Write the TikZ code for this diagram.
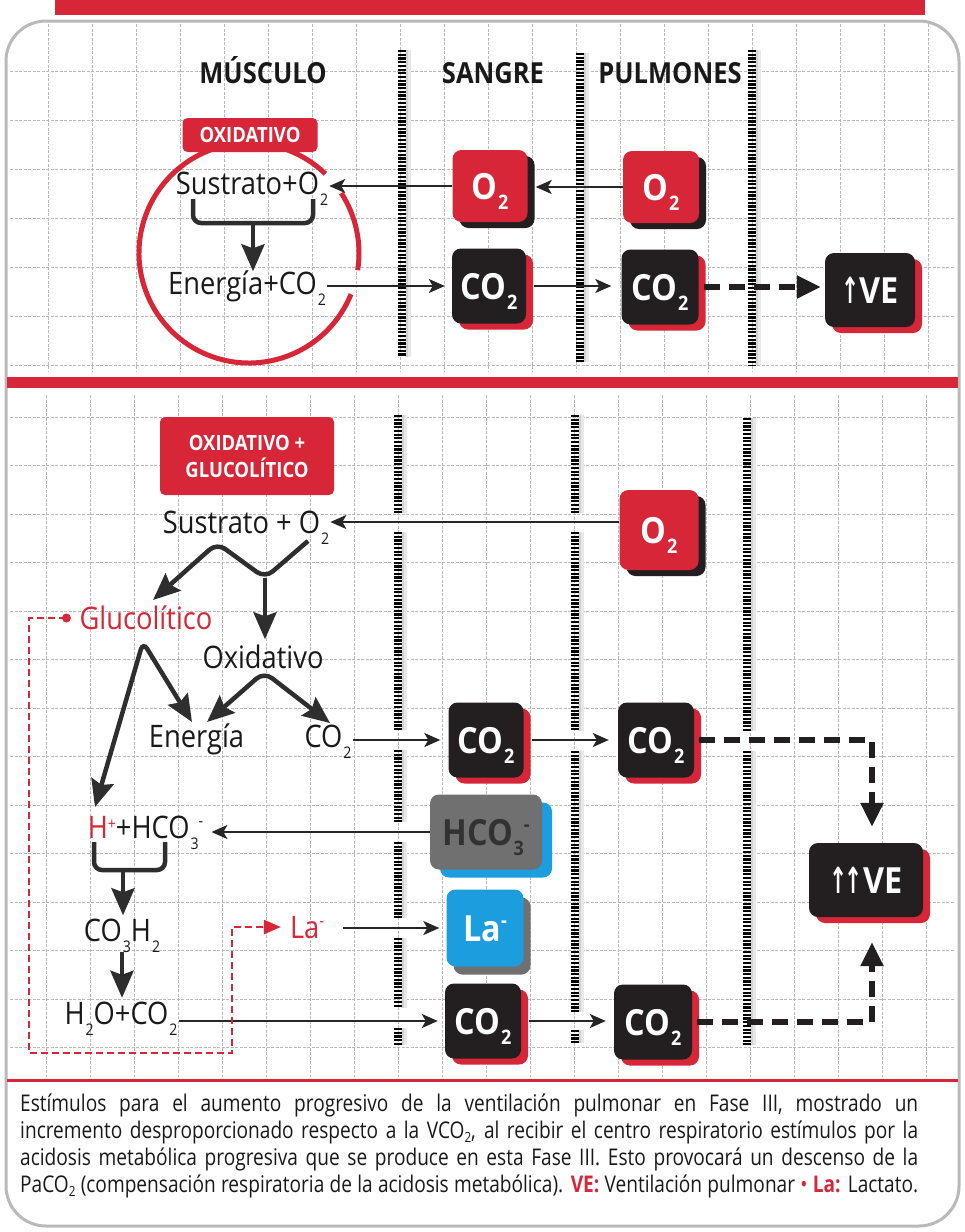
\documentclass[tikz,border=0pt]{standalone}
\usepackage{fontspec}
\setmainfont{Open Sans}
\newfontfamily\osf[FakeStretch=0.88]{Open Sans}
\newfontfamily\bxf[FakeStretch=0.9]{Open Sans}
\newfontfamily\capfont[FakeStretch=0.83]{Open Sans}
\newfontfamily\arrfont[FakeStretch=0.6]{DejaVu Sans}
\usetikzlibrary{arrows.meta,shadows,calc}
\definecolor{cred}{RGB}{214,38,56}
\definecolor{cblack}{RGB}{35,31,32}
\definecolor{cgray}{RGB}{112,112,112}
\definecolor{cgtext}{RGB}{50,50,50}
\definecolor{cblue}{RGB}{27,157,222}
\definecolor{gridc}{RGB}{185,185,185}
\definecolor{ctext}{RGB}{25,25,25}
\newcommand\lsub[1]{\kern1pt\smash{\raisebox{-11pt}{\fontsize{16}{16}\selectfont #1}}}
\newcommand\lsupp[1]{\smash{\raisebox{9pt}{\fontsize{16}{16}\selectfont #1}}}
\newcommand\lsupm[1]{\smash{\raisebox{12pt}{\fontsize{16}{16}\selectfont #1}}}
\newcommand\bsub[1]{\kern0.5pt\smash{\raisebox{-10pt}{\fontsize{20}{20}\selectfont #1}}}
\newcommand\bsup[1]{\smash{\raisebox{14pt}{\fontsize{20}{20}\selectfont #1}}}
\newcommand\csub[1]{\raisebox{-4pt}{\fontsize{14}{14}\selectfont #1}}
\newcommand\barr[3]{\draw[gray!18, line width=6pt] ({#1+6},#2) -- ({#1+6},#3);
  \draw[gray!35, line width=2.5pt] ({#1+5},#2) -- ({#1+5},#3);
  \draw[black, line width=8pt, dash pattern=on 2.2pt off 1.5pt] (#1,#2) -- (#1,#3);}
\tikzset{
  gridl/.style={gridc, line width=0.6pt, dash pattern=on 3pt off 1.5pt},
  hdr/.style={font=\osf\bfseries\fontsize{29}{29}\selectfont, text=ctext, inner sep=1pt, text height=21pt, text depth=0pt},
  lbl/.style={font=\osf\fontsize{31}{31}\selectfont, text=ctext, inner sep=1pt, text height=22pt, text depth=0pt},
  tagbox/.style={fill=cred, rounded corners=5pt, text=white, font=\osf\bfseries\fontsize{21}{27}\selectfont, align=center, inner sep=0pt},
  box/.style={rounded corners=9pt, minimum width=75pt, minimum height=75pt, inner sep=0pt, text=white,
     font=\bxf\bfseries\fontsize{36}{36}\selectfont, text height=26pt, text depth=0pt},
  redbox/.style={box, fill=cred, general shadow={fill=cblack, shadow xshift=7pt, shadow yshift=-6pt}},
  blkbox/.style={box, fill=cblack, general shadow={fill=cred, shadow xshift=7pt, shadow yshift=-6pt}},
  graybox/.style={box, fill=cgray, text=cgtext, general shadow={fill=cblue, shadow xshift=10pt, shadow yshift=-8pt}},
  bluebox/.style={box, fill=cblue, general shadow={fill=cgray, shadow xshift=7pt, shadow yshift=-8pt}},
  thinarr/.style={draw=black!85, line width=2pt, -{Stealth[length=16pt, width=14pt, inset=4pt]}},
  bigline/.style={draw=black!82, line width=4.5pt},
  bigtip/.style={-{Stealth[length=27pt, width=23pt, inset=4pt]}},
  bothtip/.style={{Stealth[length=27pt, width=23pt, inset=4pt]}-{Stealth[length=27pt, width=23pt, inset=4pt]}},
  dasharr/.style={draw=cblack, line width=5.5pt, dash pattern=on 16pt off 9pt, -{Triangle[length=24pt, width=22pt]}},
  reddash/.style={draw=cred, line width=2.5pt, dash pattern=on 7pt off 4pt, -{Triangle[length=17pt, width=14pt]}},
}
\begin{document}
\begin{tikzpicture}[x=1pt, y=-1pt]
\useasboundingbox (0,0) rectangle (965,1232);
\fill[white] (0,0) rectangle (965,1232);
% grid
\foreach \i in {0,...,20} \draw[gridl] ({48+44*\i},24) -- ({48+44*\i},372);
\foreach \yy in {71,120,169,218,267,316,365} \draw[gridl] (10,\yy) -- (955,\yy);
\foreach \i in {0,...,20} \draw[gridl] ({46+44*\i},395) -- ({46+44*\i},1077);
\foreach \k in {0,...,13} \draw[gridl] (10,{417+48.5*\k}) -- (955,{417+48.5*\k});
% card
\draw[gray!55, line width=3pt, rounded corners=40pt] (6,21) rectangle (959,1226);
\fill[cred] (55,0) rectangle (925,15);
\fill[cred] (7,377) rectangle (958,388);
\fill[cred] (7,1079) rectangle (958,1082);
% barriers
\barr{402}{50}{357}
\barr{580}{53}{362}
\barr{752}{50}{365}
\barr{398}{415}{513}\barr{398}{532}{730}\barr{398}{750}{822}\barr{398}{842}{918}\barr{398}{938}{1008}\barr{398}{1028}{1045}
\barr{575}{415}{513}\barr{575}{532}{731}\barr{575}{751}{1012}\barr{575}{1030}{1043}
\barr{747}{418}{731}\barr{747}{751}{1045}
% headers
\node[hdr] (hm) at (263,73) {MÚSCULO};
\node[hdr] (hs) at (493,73) {SANGRE};
\node[hdr] (hp) at (670,73) {PULMONES};
% top circle
\draw[cred, line width=5pt] (249,253) ++(22:110) arc[start angle=22, end angle=314, radius=110];
\draw[cred, line width=5pt] (249,253) ++(-33:110) arc[start angle=-33, end angle=9, radius=110];
\node[tagbox, minimum width=135pt, minimum height=34pt] (ox1) at (250,135) {OXIDATIVO};
% top labels
\node[lbl] (s1) at (252,183) {Sustrato+O\lsub{2}};
\node[lbl] (e1) at (247,283.5) {Energía+CO\lsub{2}};
% top boxes
\node[redbox, minimum width=75pt, minimum height=72pt] (o2a) at (490,186) {O\bsub{2}};
\node[redbox, minimum width=76pt, minimum height=72pt] (o2b) at (661,187) {O\bsub{2}};
\node[blkbox, minimum width=74pt] (co2a) at (489,286) {CO\bsub{2}};
\node[blkbox, minimum width=77pt] (co2b) at (660,287) {CO\bsub{2}};
\node[blkbox, minimum width=90pt, minimum height=74pt] (ve1) at (870,290) {{\arrfont\bfseries ↑}VE};
% top connectors
\draw[thinarr] (o2a.west) -- (o2a.west -| s1.east);
\draw[thinarr] (o2b.west) -- ($(o2b.west -| o2a.east)+(8,0)$);
\draw[thinarr] (e1.east |- co2a.west) -- ([xshift=-7pt]co2a.west);
\draw[thinarr] ([xshift=8pt]co2a.east) -- ([xshift=-10pt]co2b.west |- co2a.east);
\draw[dasharr] ([xshift=5pt]co2b.east) -- ([xshift=-4pt]ve1.west |- co2b.east);
\draw[bigline, rounded corners=8pt] (193,199) |- (313,223) -- (313,199);
\coordinate (bt) at (253,223);
\draw[bigline, bigtip] (bt) -- (bt |- e1.north);
% bottom
\node[tagbox, minimum width=174pt, minimum height=78pt] (ox2) at (247,456) {OXIDATIVO +\\GLUCOLÍTICO};
\node[lbl] (s2) at (246,522) {Sustrato + O\lsub{2}};
\node[lbl, text=cred] (gl) at (146,618) {Glucolítico};
\node[lbl] (ox) at (263,657.5) {Oxidativo};
\node[lbl] (en) at (196.5,736) {Energía};
\node[lbl] (c2) at (328,736) {CO\lsub{2}};
\node[lbl] (h1) at (145.5,827) {{\color{cred}H\lsupp{+}}+HCO\lsub{3}\lsupm{-}};
\node[lbl] (co3) at (122,930.5) {CO\lsub{3}H\lsub{2}};
\node[lbl] (h2o) at (121,1013) {H\lsub{2}O+CO\lsub{2}};
\node[lbl, text=cred] (la1) at (307,927) {La\lsupm{-}};
% bottom boxes
\node[redbox, minimum width=79pt, minimum height=80pt] (o2c) at (659,530) {O\bsub{2}};
\node[blkbox] (co2c) at (486,740) {CO\bsub{2}};
\node[blkbox, minimum width=76pt] (co2d) at (656,740) {CO\bsub{2}};
\node[graybox, minimum width=112pt] (hco) at (486,832) {HCO\bsub{3}\bsup{-}};
\node[bluebox, minimum width=77pt, minimum height=77pt] (la) at (485,928) {La\bsup{-}};
\node[blkbox, minimum width=76pt] (co2e) at (483,1021) {CO\bsub{2}};
\node[blkbox, minimum width=78pt] (co2f) at (653,1022) {CO\bsub{2}};
\node[blkbox, minimum width=114pt, minimum height=74pt] (ve2) at (866,880) {{\arrfont\bfseries ↑\kern-3pt↑}VE};
% bottom connectors
\draw[thinarr] (o2c.west |- s2.east) -- (s2.east);
\coordinate (j1) at (265,578);
\coordinate (a0) at (308,541);
\coordinate (pk1) at (217,543);
\coordinate (gt) at (153,600);
\draw[bigline, rounded corners=10pt, bigtip] (a0) -- (j1) -- (pk1) -- (gt);
\draw[bigline, bigtip, shorten >=6pt] (j1) -- (j1 |- ox.north);
\coordinate (pk2) at (143,642);
\coordinate (ht) at (95,807);
\coordinate (et1) at (192,722);
\draw[bigline, rounded corners=8pt, bothtip] (ht) -- (pk2) -- (et1);
\coordinate (pk3) at (264,672);
\coordinate (et2) at (207,722);
\coordinate (ct) at (330,723);
\draw[bigline, rounded corners=10pt, bothtip] (et2) -- (pk3) -- (ct);
\draw[thinarr] (c2.east |- co2c.west) -- ([xshift=-8pt]co2c.west);
\draw[thinarr] ([xshift=8pt]co2c.east) -- ([xshift=-9pt]co2d.west |- co2c.east);
\draw[dasharr] ([xshift=5pt]co2d.east) -| ([xshift=6pt, yshift=16pt]ve2.north);
\draw[dasharr] ([xshift=5pt]co2f.east) -| ([xshift=6pt, yshift=-25pt]ve2.south);
\draw[thinarr] (hco.west) -- ([xshift=7pt]h1.east |- hco.west);
\draw[bigline, rounded corners=8pt] (94,842) |- (165,870) -- (165,842);
\coordinate (bt2) at (123,870);
\draw[bigline, bigtip, shorten >=3pt] (bt2) -- (bt2 |- co3.north);
\coordinate (bt3) at (122,952);
\draw[bigline, bigtip, shorten >=3pt] (bt3) -- (bt3 |- h2o.north);
\draw[thinarr] (h2o.east |- co2e.west) -- ([xshift=-7pt]co2e.west);
\draw[thinarr] ([xshift=18pt]la1.east |- la.west) -- ([xshift=-7pt]la.west);
\draw[thinarr] ([xshift=8pt]co2e.east) -- ([xshift=-8pt]co2f.west |- co2e.east);
\coordinate (rd) at ([xshift=-12pt]gl.west);
\fill[cred] (rd) circle (4.5);
\draw[reddash] (rd) -- (29,618) -- (29,1053) -- (232,1053) -- (232,927) -- ([xshift=-8pt]la1.west);
% caption
\begin{scope}[every node/.style={anchor=base west, inner sep=0pt, font=\capfont\fontsize{23}{23}\selectfont, text=ctext}]
\node (cap1) at (20,1111) {\makebox[898pt][s]{Estímulos para el aumento progresivo de la ventilación pulmonar en Fase III, mostrado un}};
\node (cap2) at (20,1138) {\makebox[898pt][s]{incremento desproporcionado respecto a la VCO\csub{2}, al recibir el centro respiratorio estímulos por la}};
\node (cap3) at (20,1165) {\makebox[898pt][s]{acidosis metabólica progresiva que se produce en esta Fase III. Esto provocará un descenso de la}};
\node (cap4) at (20,1192) {\makebox[898pt][s]{PaCO\csub{2} (compensación respiratoria de la acidosis metabólica). {\color{cred}\bfseries VE:} Ventilación pulmonar {\color{cred}•} {\color{cred}\bfseries La:} Lactato.}};
\end{scope}
\end{tikzpicture}
\end{document}
